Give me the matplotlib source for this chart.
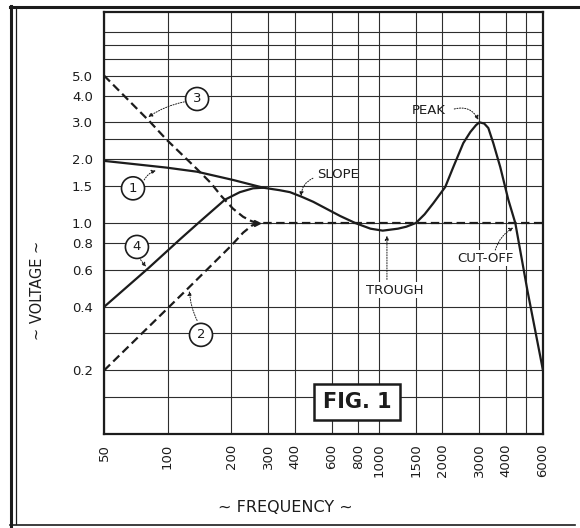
import matplotlib
matplotlib.use("Agg")
import matplotlib.pyplot as plt
from matplotlib.lines import Line2D

# ejes: frecuencia (Hz) y tension relativa, ambos logaritmicos
freq_ticks = [50, 100, 200, 300, 400, 600, 800, 1000, 1500, 2000, 3000, 4000, 6000]
freq_grid_extra = [5000]
volt_ticks = [0.2, 0.4, 0.6, 0.8, 1.0, 1.5, 2.0, 3.0, 4.0, 5.0]
volt_tick_labels = ["0.2", "0.4", "0.6", "0.8", "1.0", "1.5", "2.0", "3.0", "4.0", "5.0"]
volt_grid_extra = [0.15, 0.3, 2.5, 6.0, 7.0, 8.0]

# curva 1: pendiente, valle, pico y corte
freq_1 = [50, 70, 99, 138, 204, 284, 340, 380, 433, 490, 546, 656, 774, 914,
          1045, 1234, 1350, 1500, 1650, 1813, 2065, 2255, 2515, 2717, 2890,
          3000, 3160, 3305, 3490, 3765, 4110, 4435, 5060, 6000]
volt_1 = [1.97, 1.90, 1.83, 1.75, 1.60, 1.47, 1.43, 1.40, 1.33, 1.26, 1.19,
          1.08, 1.0, 0.94, 0.92, 0.94, 0.96, 1.0, 1.1, 1.24, 1.48, 1.84, 2.39,
          2.70, 2.91, 3.0, 2.96, 2.82, 2.39, 1.84, 1.29, 1.0, 0.48, 0.2]

# curva 2: subida desde 0.2 y luego plana en 1.0
freq_2 = [50, 125, 200, 228, 250, 265, 6000]
volt_2 = [0.2, 0.49, 0.78, 0.9, 0.97, 1.0, 1.0]

# curva 3: bajada desde 5.0 hasta unirse a la plana
freq_3 = [50, 83, 99, 138, 160, 180, 204, 228, 250, 265]
volt_3 = [5.0, 3.0, 2.48, 1.80, 1.55, 1.34, 1.17, 1.07, 1.02, 1.0]

# curva 4: subida desde 0.4 hasta unirse a la curva 1
freq_4 = [50, 81, 115, 143, 187, 220, 254, 284]
volt_4 = [0.4, 0.61, 0.84, 1.02, 1.29, 1.40, 1.46, 1.47]

ink = "#1c1c1c"

fig = plt.figure(figsize=(5.8, 5.28), dpi=100)
ax = fig.add_axes([104 / 580, 94 / 528, 439 / 580, 422 / 528])
ax.set_xscale("log")
ax.set_yscale("log")
ax.set_xlim(50, 6000)
ax.set_ylim(0.1, 10)

ax.set_xticks(freq_ticks)
ax.set_xticklabels([str(f) for f in freq_ticks], rotation=90)
ax.set_xticks(freq_grid_extra, minor=True)
ax.set_yticks(volt_ticks)
ax.set_yticklabels(volt_tick_labels)
ax.set_yticks(volt_grid_extra, minor=True)
ax.tick_params(which="both", length=0)
ax.tick_params(axis="y", pad=8, labelsize=9.5, colors=ink)
ax.tick_params(axis="x", pad=7, labelsize=9.5, colors=ink)
ax.grid(True, which="both", color="#2e2e2e", linewidth=0.8)
for s in ax.spines.values():
    s.set_linewidth(1.6)
    s.set_color(ink)

ax.plot(freq_1, volt_1, color=ink, lw=1.6, solid_capstyle="round",
        solid_joinstyle="round")
ax.plot(freq_4, volt_4, color=ink, lw=1.6, solid_capstyle="round",
        solid_joinstyle="round")
ax.plot(freq_2, volt_2, color=ink, lw=1.6, dashes=(3.8, 2.0))
ax.plot(freq_3, volt_3, color=ink, lw=1.6, dashes=(3.8, 2.0))
ax.plot(freq_3[-1], volt_3[-1], marker=">", ms=5, color=ink)

dotted = dict(arrowstyle="-|>", linestyle=(0, (1.2, 1.5)), lw=0.7, color=ink,
              mutation_scale=6, shrinkA=0, shrinkB=0)

def leader(xy_from, xy_to, rad=0.0):
    ax.annotate("", xy=xy_to, xytext=xy_from,
                arrowprops=dict(dotted, connectionstyle="arc3,rad=%s" % rad))

# numeros en circulo
circle_box = dict(boxstyle="circle,pad=0.38", fc="white", ec=ink, lw=1.2)
for num, pos in [("3", (138, 3.87)), ("1", (68.6, 1.46)),
                 ("4", (71.6, 0.77)), ("2", (144, 0.295))]:
    ax.text(pos[0], pos[1], num, ha="center", va="center", fontsize=9.5,
            color=ink, bbox=circle_box, zorder=5)

leader((120, 3.75), (81, 3.18), rad=0.1)
leader((77.5, 1.6), (88, 1.77), rad=-0.2)
leader((74.5, 0.67), (79, 0.62), rad=0.0)
leader((138, 0.345), (127, 0.476), rad=-0.1)

# rotulos de la curva 1
ax.text(643, 1.69, "SLOPE", ha="center", va="center", fontsize=9.5, color=ink)
leader((488, 1.63), (429, 1.34), rad=0.3)
ax.text(1732, 3.43, "PEAK", ha="center", va="center", fontsize=9.5, color=ink)
leader((2280, 3.47), (2965, 3.08), rad=-0.4)
ax.text(1196, 0.48, "TROUGH", ha="center", va="center", fontsize=9.5, color=ink,
        bbox=dict(fc="white", ec="none", pad=1))
leader((1094, 0.54), (1094, 0.87), rad=0.0)
ax.text(3205, 0.68, "CUT-OFF", ha="center", va="center", fontsize=9.5, color=ink,
        bbox=dict(fc="white", ec="none", pad=1))
leader((3566, 0.745), (4346, 0.95), rad=-0.2)

ax.text(790, 0.142, "FIG. 1", ha="center", va="center", fontsize=15,
        fontweight="bold", color=ink,
        bbox=dict(boxstyle="square,pad=0.4", fc="white", ec=ink, lw=1.8), zorder=5)

fig.text(37 / 580, 1 - 290 / 528, "~ VOLTAGE ~", rotation=90, ha="center",
         va="center", fontsize=10.5, color=ink)
fig.text(285 / 580, 1 - 507 / 528, "~ FREQUENCY ~", ha="center", va="center",
         fontsize=11.5, color=ink)

# marco exterior
fig.add_artist(Line2D([10.5 / 580, 10.5 / 580], [1 - 6 / 528, 1 - 526 / 528],
                      transform=fig.transFigure, color=ink, lw=2.2))
fig.add_artist(Line2D([15.5 / 580, 15.5 / 580], [1 - 8 / 528, 1 - 524 / 528],
                      transform=fig.transFigure, color=ink, lw=0.9))
fig.add_artist(Line2D([10 / 580, 1.0], [1 - 6.5 / 528, 1 - 6.5 / 528],
                      transform=fig.transFigure, color=ink, lw=2.2))
fig.add_artist(Line2D([10 / 580, 575 / 580], [1 - 525 / 528, 1 - 525 / 528],
                      transform=fig.transFigure, color=ink, lw=1.2))

fig.savefig("out.png", dpi=100)
